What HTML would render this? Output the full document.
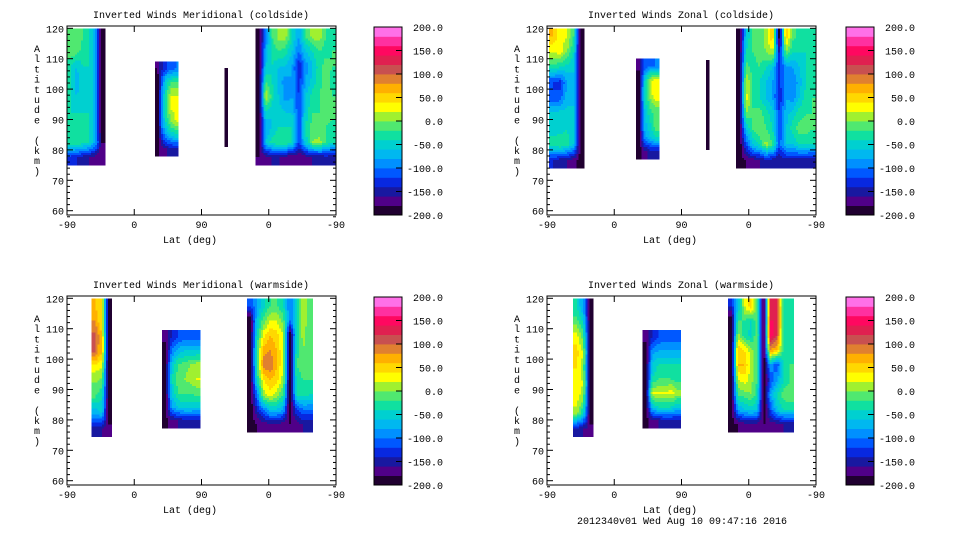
<!DOCTYPE html>
<html><head><meta charset="utf-8">
<style>
html,body{margin:0;padding:0;background:#fff;}
svg{display:block;}
text{font-family:"Liberation Mono","DejaVu Sans Mono",monospace;font-size:10px;fill:#000;}
</style></head>
<body>
<svg id="fig" width="960" height="540" viewBox="0 0 960 540"></svg>
<script>
// ---- data ----
const colorLevels = [-200,-180,-160,-140,-120,-100,-80,-60,-40,-20,0,20,40,60,80,100,120,140,160,180,200];
const levelColors = ['#200030','#500088','#1818a0','#0828e0','#0058ff','#0090ff','#00b8f0','#00d0d0','#10e0a0','#50e870','#a0f030','#ffff00','#ffd800','#ffb000','#e08030','#c85050','#e02050','#ff0860','#ff30a0','#ff70e8'];
const colorbarLabels = ['200.0','150.0','100.0','50.0','0.0','-50.0','-100.0','-150.0','-200.0'];
const colorbarValues = [200,150,100,50,0,-50,-100,-150,-200];
const xTickLabels = ['-90','0','90','0','-90'];
const xTickPos = [0,90,180,270,360];
const yTickValues = [60,70,80,90,100,110,120];
const panelTitles = ['Inverted Winds Meridional (coldside)','Inverted Winds Zonal (coldside)','Inverted Winds Meridional (warmside)','Inverted Winds Zonal (warmside)'];

const p1Left = [[-20,0,-20,-40,-80,-200],[0,-10,-30,-40,-80,-200],[-40,-60,-40,-40,-80,-200],[-40,-70,-50,-40,-80,-200],[-40,-60,-50,-40,-80,-200],[-40,-40,-40,-40,-80,-200],[-40,-40,-40,-40,-80,-200],[-20,-20,-30,-40,-80,-180],[-130,-140,-150,-160,-170,-180]];
const p1Mid = [[-180,-140,-120,-110,-100],[-200,-100,-40,-20,-20],[-200,-80,-20,20,20],[-200,-80,-20,20,30],[-200,-80,-30,0,20],[-200,-120,-80,-60,-50],[-190,-170,-160,-150,-150]];
const p1Thin = [[-200]];
const p1Right = [[-200,-100,-20,10,10,-40,-80,-20,10,10,-20,-40],[-200,-80,-30,-20,-30,-60,-100,-60,-40,-20,-30,-20],[-200,-60,-40,-60,-60,-80,-140,-90,-60,-30,-10,-20],[-200,-20,-40,-70,-90,-80,-130,-80,-50,-30,-10,-30],[-200,20,-30,-60,-90,-80,-120,-60,-30,-20,0,-20],[-200,-40,-60,-50,-60,-60,-120,-50,-20,-20,-10,-10],[-200,-80,-60,-40,-40,-40,-120,-40,-10,-20,-20,-30],[-200,-60,-30,-20,-20,-40,-120,-50,0,10,-20,-40],[-180,-170,-160,-160,-170,-180,-180,-170,-160,-160,-150,-160]];

const p2Left = [[60,30,20,-20,-200],[20,30,0,-40,-200],[-30,-40,-50,-60,-200],[-120,-130,-80,-60,-200],[-120,-110,-70,-60,-200],[-50,-50,-50,-60,-200],[-50,-50,-40,-60,-200],[-30,-20,-30,-60,-200],[-140,-150,-160,-170,-190]];
const p2Mid = [[-170,-120,-110,-100],[-200,-60,20,30],[-200,-40,10,40],[-200,-60,-20,-10],[-200,-70,-40,0],[-200,-90,-60,-40],[-200,-170,-150,-150]];
const p2Thin = [[-200]];
const p2Right = [[-200,-60,-20,-20,10,60,-200,60,-10,-30,-40,-40],[-200,-40,-20,-10,0,20,-150,0,-40,-40,-40,-40],[-200,-10,-30,-20,-40,-60,-130,-90,-80,-60,-40,-40],[-200,20,-20,-40,-60,-80,-130,-80,-100,-70,-40,-30],[-200,30,-20,-40,-60,-80,-140,-80,-90,-60,-30,-20],[-200,0,-20,-10,-30,-50,-120,-70,-50,-30,-20,-20],[-200,-60,-20,0,-20,-40,-120,-60,-30,-10,-10,-20],[-200,-120,-60,-40,10,-20,-110,-60,-60,-40,-40,-40],[-190,-180,-170,-160,-150,-150,-160,-150,-150,-150,-150,-160]];

const p3Left = [[60,40,-200],[80,40,-200],[110,60,-200],[100,60,-200],[30,20,-200],[0,-10,-200],[-20,-40,-200],[-80,-60,-200],[-150,-160,-170]];
const p3Mid = [[-170,-140,-120,-110,-110,-110],[-200,-100,-70,-60,-60,-60],[-200,-60,-20,-10,0,10],[-200,-40,-10,0,10,20],[-200,-60,-20,-20,-20,-10],[-200,-80,-60,-50,-50,-60],[-190,-170,-160,-150,-150,-150]];
const p3Right = [[-120,-80,-50,-20,-20,-40,-100,-40,20,-20],[-200,-60,-10,20,20,-10,-100,-40,20,-20],[-200,-40,30,60,50,20,-200,-40,10,-20],[-200,-20,70,80,60,20,-200,-30,0,-20],[-200,-20,90,100,60,20,-200,-20,-10,-20],[-200,-40,40,60,50,10,-200,-30,-20,-20],[-200,-100,10,30,10,-20,-200,-40,-30,-40],[-200,-140,-100,-60,-60,-80,-200,-120,-100,-100],[-190,-180,-170,-170,-170,-170,-180,-170,-160,-160]];

const p4Left = [[-40,-80,-200],[-10,-40,-200],[30,-10,-200],[50,20,-200],[40,10,-200],[30,20,-200],[30,10,-200],[10,-40,-200],[-150,-160,-170]];
const p4Mid = [[-170,-140,-120,-110,-110,-110],[-200,-90,-80,-80,-80,-80],[-200,-60,-40,-40,-40,-40],[-200,-40,-20,-20,-20,-30],[-200,20,20,20,30,10],[-200,-60,-40,-40,-40,-60],[-190,-170,-160,-150,-150,-150]];
const p4Right = [[-140,-60,20,60,-10,-200,130,130,-40,-40],[-200,-20,-20,-40,-10,-200,140,140,-40,-40],[-200,10,-30,-50,0,-200,150,120,-40,-40],[-200,60,40,10,-20,-200,80,60,-30,-30],[-200,60,60,10,-20,-200,-80,-120,-40,-20],[-200,20,30,10,-20,-200,-120,-80,-40,-20],[-200,-20,-10,0,-30,-200,-80,-40,-10,0],[-200,-80,-60,-50,-60,-200,-120,-60,-40,-40],[-190,-180,-170,-170,-170,-180,-170,-170,-160,-160]];

// block extents in data coords: [pos0, pos1, altTop, altBottom]
const p1Extents = [[0,51,120,75],[118,149,109,78],[211,215,107,81],[252,360,120,75]];
const p2Extents = [[3,50,120,74],[119,150,110,77],[213,217,109.6,80],[253,360,120,74]];
const p3Extents = [[33,60,120,74.5],[127,178,109.6,77.3],[241,329,120,76]];
const p4Extents = [[35,62,120,74.5],[128,179,109.6,77.3],[242,330,120,76]];
const panelGrids = [[p1Left,p1Mid,p1Thin,p1Right],[p2Left,p2Mid,p2Thin,p2Right],[p3Left,p3Mid,p3Right],[p4Left,p4Mid,p4Right]];
const panelExtents = [p1Extents,p2Extents,p3Extents,p4Extents];

// ---- layout ----
const NS='http://www.w3.org/2000/svg';
const svg=document.getElementById('fig');
function mk(tag,attrs,parent){const e=document.createElementNS(NS,tag);for(const k in attrs)e.setAttribute(k,attrs[k]);(parent||svg).appendChild(e);return e;}
const panelOrigins=[[67,26],[547,26],[67,296],[547,296]];
const cbOrigins=[374,846];
const PW=269, PH=189;
function colorFor(v){let i=Math.floor((v+200)/20);if(i<0)i=0;if(i>19)i=19;return levelColors[i];}
function sample(grid,fr,fc){
  const rows=grid.length, cols=grid[0].length;
  let r=Math.min(Math.max(fr-0.5,0),rows-1), c=Math.min(Math.max(fc-0.5,0),cols-1);
  const r0=Math.floor(r), c0=Math.floor(c), r1=Math.min(r0+1,rows-1), c1=Math.min(c0+1,cols-1);
  const tr=r-r0, tc=c-c0;
  const a=grid[r0][c0]*(1-tc)+grid[r0][c1]*tc, b=grid[r1][c0]*(1-tc)+grid[r1][c1]*tc;
  return a*(1-tr)+b*tr;
}

panelGrids.forEach((grids,p)=>{
  const [L,T]=panelOrigins[p];
  const xS=pos=>L+pos*PW/360;
  const yS=alt=>T+2.3+(120-alt)*(182.4/60);
  const g=mk('g',{});
  
  
  const cg=mk('g',{'shape-rendering':'crispEdges'},g);
  
  
  grids.forEach((grid,b)=>{
    const [p0,p1,at,ab]=panelExtents[p][b];
    const rows=grid.length, cols=grid[0].length;
    const X0=xS(p0), X1=xS(p1), Y0=yS(at), Y1=yS(ab);
    const step=2;
    const nx=Math.max(1,Math.round((X1-X0)/step)), ny=Math.max(1,Math.round((Y1-Y0)/step));
    const sx=(X1-X0)/nx, sy=(Y1-Y0)/ny;
    for(let j=0;j<ny;j++)for(let i=0;i<nx;i++){
      const v=sample(grid,(j+0.5)/ny*rows,(i+0.5)/nx*cols);
      const rc=mk('rect',{x:(X0+i*sx).toFixed(2),y:(Y0+j*sy).toFixed(2),width:(sx+0.3).toFixed(2),height:(sy+0.3).toFixed(2),fill:colorFor(v)},cg);
      
      
    }
  });
  const fr=mk('rect',{x:L,y:T,width:PW,height:PH,fill:'none',stroke:'#000','stroke-width':1},g);
  
  
  for(let a=58;a<=120;a+=2){
    const y=yS(a); const major=a%10===0;
    const len=major?6:3;
    mk('line',{x1:L,x2:L+len,y1:y,y2:y,stroke:'#000','stroke-width':1},g);
    mk('line',{x1:L+PW,x2:L+PW-len,y1:y,y2:y,stroke:'#000','stroke-width':1},g);
  }
  yTickValues.forEach(v=>{
    const t=mk('text',{x:L-3,y:yS(v)+4,'text-anchor':'end'},g);t.textContent=v;
    
    
  });
  xTickPos.forEach((pv,i)=>{
    const x=xS(pv);
    mk('line',{x1:x,x2:x,y1:T+PH,y2:T+PH-6,stroke:'#000'},g);
    mk('line',{x1:x,x2:x,y1:T,y2:T+6,stroke:'#000'},g);
    const t=mk('text',{x:x,y:T+PH+13,'text-anchor':'middle'},g);t.textContent=xTickLabels[i];
    
    
  });
  const xt=mk('text',{x:L+123,y:T+PH+28,'text-anchor':'middle'},g);xt.textContent='Lat (deg)';
  
  
  const tt=mk('text',{x:L+134,y:T-8,'text-anchor':'middle'},g);tt.textContent=panelTitles[p];
  
  
  const yt=mk('g',{},g);
  
  
  'Altitude (km)'.split('').forEach((ch,i)=>{
    const t=mk('text',{x:L-30,y:T+26+i*10.2,'text-anchor':'middle'},yt);t.textContent=ch;
  });
  const cx=cbOrigins[p%2], cy=T+1, cw=28, ch=188;
  const cb=mk('g',{},g);
  
  
  for(let i=0;i<20;i++){
    const y0=cy+ch-(i+1)*ch/20;
    mk('rect',{x:cx,y:y0.toFixed(2),width:cw,height:(ch/20+0.4).toFixed(2),fill:levelColors[i]},cb);
  }
  mk('rect',{x:cx,y:cy,width:cw,height:ch,fill:'none',stroke:'#000'},cb);
  colorbarValues.forEach((v,i)=>{
    const y=cy+ch-(v+200)/400*ch;
    mk('line',{x1:cx+cw,x2:cx+cw-6,y1:y,y2:y,stroke:'#000'},cb);
    const t=mk('text',{x:cx+69,y:y+4,'text-anchor':'end'},cb);t.textContent=colorbarLabels[i];
    
    
  });
});
const ft=mk('text',{x:682,y:524,'text-anchor':'middle'});ft.textContent='2012340v01 Wed Aug 10 09:47:16 2016';


</script>
</body></html>
